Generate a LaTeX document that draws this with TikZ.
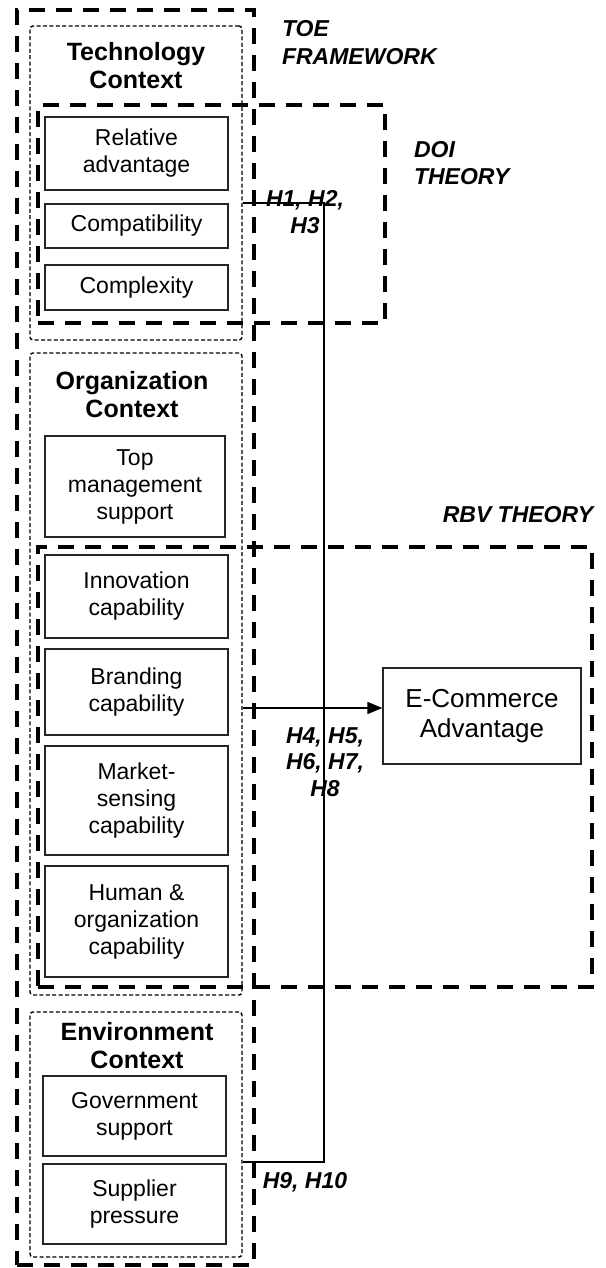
\documentclass[tikz,border=0pt]{standalone}
\usepackage{fontspec}
\setmainfont{Liberation Sans}
\usetikzlibrary{fit,arrows.meta}

\tikzset{
  theorybox/.style={draw, line width=1.8pt, dash pattern=on 8pt off 5.5pt, inner sep=0pt},
  ctxbox/.style={draw, line width=0.7pt, dash pattern=on 2pt off 1.2pt, rounded corners=1.5pt, inner sep=0pt},
  factor/.style={draw=black!85, line width=0.65pt, align=center, inner sep=2pt,
    minimum width=91.5pt, font=\fontsize{11.5}{13.5}\selectfont},
  ctxtitle/.style={align=center, font=\fontsize{12.5}{14}\selectfont\bfseries},
  hyp/.style={align=center, font=\fontsize{11.5}{13.25}\selectfont\bfseries\itshape},
  theorylbl/.style={align=left, anchor=west, font=\fontsize{11.5}{14}\selectfont\bfseries\itshape},
  link/.style={line width=0.7pt}
}

\begin{document}
\begin{tikzpicture}[x=0.5pt, y=-0.5pt]
    \useasboundingbox (0,0) rectangle (605,1268);

    % theory frames
    \node[theorybox, fit={(17,10) (254,1265)}] (toe) {};
    \node[theorybox, fit={(38,105) (385,323)}] (doi) {};
    \node[theorybox, fit={(38,547) (592,987)}] (rbv) {};

    % TOE contexts
    \node[ctxbox, fit={(30,26) (242,340)}] (techctx) {};
    \node[ctxbox, fit={(30,353) (242,995)}] (orgctx) {};
    \node[ctxbox, fit={(30,1012) (242,1257)}] (envctx) {};

    \node[ctxtitle] (techtitle) at (136,66) {Technology\\Context};
    \node[ctxtitle] (orgtitle) at (132,395) {Organization\\Context};
    \node[ctxtitle] (envtitle) at (137,1046) {Environment\\Context};

    % factors
    \node[factor, minimum height=36.5pt] (reladv) at (136.5,153.5) {Relative\\advantage};
    \node[factor, minimum height=22pt] (compat) at (136.5,226) {Compatibility};
    \node[factor, minimum height=22.5pt] (complex) at (136.5,287.5) {Complexity};
    \node[factor, minimum width=90pt, minimum height=50.5pt] (topmgmt) at (135,486.5) {Top\\management\\support};
    \node[factor, minimum height=41.5pt] (innov) at (136.5,596.5) {Innovation\\capability};
    \node[factor, minimum height=43pt] (brand) at (136.5,692) {Branding\\capability};
    \node[factor, minimum height=54.5pt] (market) at (136.5,800.5) {Market-\\sensing\\capability};
    \node[factor, minimum height=55.5pt] (human) at (136.5,921.5) {Human \&\\organization\\capability};
    \node[factor, minimum height=40pt] (govt) at (134.5,1116) {Government\\support};
    \node[factor, minimum height=40pt] (supplier) at (134.5,1204) {Supplier\\pressure};

    \node[factor, minimum width=99pt, minimum height=48pt, font=\fontsize{13}{15}\selectfont] (ecom) at (482,716) {E-Commerce\\Advantage};

    % labels
    \node[theorylbl] (toelbl) at (275,42.5) {TOE\\FRAMEWORK};
    \node[theorylbl, font=\fontsize{11.5}{13.5}\selectfont\bfseries\itshape] (doilbl) at (407,163.5) {DOI\\THEORY};
    \node[hyp] (rbvlbl) at (518,515) {RBV THEORY};
    \node[hyp] (h13) at (305,212) {H1, H2,\\H3};
    \node[hyp] (h48) at (325,762) {H4, H5,\\H6, H7,\\H8};
    \node[hyp] (h910) at (305,1182) {H9, H10};

    % connectors
    \coordinate (bendtop) at (324,203);
    \coordinate (bendbot) at (324,1162);
    \coordinate (arrowy) at (0,708);
    \draw[link] (techctx.east |- bendtop) -- (bendtop) -- (bendbot) -- (envctx.east |- bendbot);
    \draw[link, -{Triangle[length=7.5pt,width=6pt]}] (orgctx.east |- arrowy) -- (ecom.west |- arrowy);
\end{tikzpicture}
\end{document}
